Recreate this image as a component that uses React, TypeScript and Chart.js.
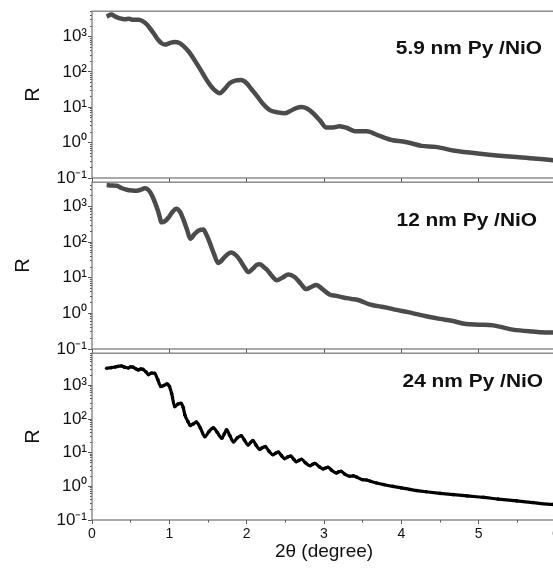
import React, { useEffect, useRef } from 'react';
import { Chart, registerables } from 'chart.js';

Chart.register(...registerables);
Chart.defaults.font.family = '"Liberation Sans", Arial, sans-serif';

// 5.9 nm Py / NiO
const theta59 = [0.19, 0.25, 0.30, 0.36, 0.42, 0.48, 0.53, 0.60, 0.66, 0.71, 0.77, 0.82, 0.86, 0.90, 0.94, 1.00, 1.07, 1.13, 1.18, 1.25, 1.31, 1.38, 1.44, 1.50, 1.55, 1.60, 1.65, 1.71, 1.78, 1.85, 1.93, 2.00, 2.06, 2.14, 2.21, 2.30, 2.40, 2.49, 2.57, 2.64, 2.71, 2.78, 2.86, 2.95, 3.03, 3.12, 3.20, 3.30, 3.40, 3.55, 3.72, 3.89, 4.02, 4.14, 4.26, 4.44, 4.69, 5.05, 5.49, 5.96, 6.0];
const r59 = [3700, 4200, 3700, 3300, 3100, 3200, 3000, 3000, 2700, 2200, 1500, 1050, 790, 650, 600, 650, 710, 660, 550, 380, 245, 140, 85, 52, 37, 29, 25, 32, 48, 57, 59, 48, 33, 20, 12.6, 8.3, 7.2, 6.8, 8.0, 9.5, 10.2, 9.2, 6.8, 4.2, 2.7, 2.7, 2.9, 2.6, 2.1, 2.1, 1.55, 1.17, 1.08, 0.95, 0.81, 0.76, 0.59, 0.48, 0.39, 0.32, 0.31];

// 12 nm Py / NiO
const theta12 = [0.19, 0.25, 0.32, 0.38, 0.45, 0.52, 0.58, 0.64, 0.68, 0.73, 0.77, 0.82, 0.86, 0.90, 0.94, 0.99, 1.04, 1.09, 1.14, 1.18, 1.23, 1.27, 1.33, 1.38, 1.44, 1.48, 1.52, 1.58, 1.63, 1.66, 1.70, 1.75, 1.80, 1.86, 1.91, 1.97, 2.02, 2.08, 2.13, 2.17, 2.22, 2.26, 2.33, 2.39, 2.46, 2.54, 2.62, 2.70, 2.77, 2.84, 2.90, 2.98, 3.07, 3.16, 3.25, 3.35, 3.46, 3.59, 3.70, 3.81, 3.94, 4.07, 4.20, 4.32, 4.50, 4.65, 4.84, 5.00, 5.19, 5.30, 5.44, 5.70, 5.96, 6.0];
const r12 = [4000, 3900, 3800, 3300, 2950, 2800, 2750, 3000, 3250, 2900, 2150, 1200, 680, 360, 380, 490, 700, 870, 700, 440, 220, 125, 172, 210, 225, 160, 100, 45, 26, 28, 35, 45, 51, 43, 32, 20, 14.5, 18, 23, 24, 20, 17, 11, 8.5, 10, 12.4, 10.5, 6.8, 4.8, 5.6, 6.3, 4.8, 3.4, 3.1, 2.8, 2.55, 2.3, 1.78, 1.6, 1.45, 1.25, 1.10, 0.95, 0.83, 0.70, 0.62, 0.50, 0.48, 0.46, 0.41, 0.35, 0.31, 0.29, 0.29];

// 24 nm Py / NiO
const theta24 = [0.19, 0.25, 0.30, 0.34, 0.38, 0.42, 0.47, 0.50, 0.53, 0.57, 0.60, 0.63, 0.66, 0.70, 0.73, 0.77, 0.81, 0.85, 0.89, 0.93, 0.97, 1.00, 1.03, 1.07, 1.11, 1.15, 1.18, 1.20, 1.24, 1.27, 1.31, 1.35, 1.40, 1.46, 1.51, 1.57, 1.62, 1.68, 1.71, 1.74, 1.78, 1.83, 1.88, 1.93, 1.97, 2.02, 2.05, 2.08, 2.12, 2.17, 2.20, 2.24, 2.29, 2.34, 2.38, 2.41, 2.45, 2.49, 2.53, 2.57, 2.61, 2.64, 2.68, 2.71, 2.76, 2.82, 2.85, 2.88, 2.94, 2.99, 3.02, 3.05, 3.10, 3.16, 3.19, 3.22, 3.27, 3.33, 3.38, 3.42, 3.50, 3.55, 3.60, 3.68, 3.78, 3.89, 4.00, 4.11, 4.20, 4.32, 4.50, 4.67, 4.85, 5.06, 5.25, 5.49, 5.70, 5.96, 6.0];
const r24 = [3250, 3400, 3550, 3700, 3800, 3500, 3300, 3600, 3500, 3100, 2900, 3100, 3000, 2500, 2100, 2350, 2300, 1500, 930, 1000, 1110, 950, 575, 235, 280, 295, 220, 135, 85, 65, 72, 81, 55, 30, 42, 55, 40, 27, 36, 48, 33, 21, 28, 32, 24, 17, 20, 23, 17, 12.6, 14, 15.2, 11, 8.7, 9.8, 10.5, 8.2, 6.7, 7.5, 8.0, 6.3, 5.4, 6.0, 6.4, 5.0, 4.1, 4.5, 4.8, 3.8, 3.3, 3.5, 3.7, 3.0, 2.5, 2.7, 2.8, 2.3, 2.0, 2.05, 1.9, 1.58, 1.55, 1.42, 1.26, 1.12, 1.0, 0.9, 0.81, 0.75, 0.69, 0.62, 0.57, 0.52, 0.47, 0.42, 0.37, 0.33, 0.29, 0.29];

const panelLabels = ['5.9 nm Py /NiO', '12 nm Py /NiO', '24 nm Py /NiO'];
const panelMax = [5250, 4800, 9100];
const yMajorTicks = [0.1, 1, 10, 100, 1000];
const xMajorTicks = [0, 1, 2, 3, 4, 5, 6];
const xMinorTicks = [0.5, 1.5, 2.5, 3.5, 4.5, 5.5];
const xTitle = '2θ (degree)';
const yTitle = 'R';

const seriesTheta = [theta59, theta12, theta24];
const seriesR = [r59, r12, r24];

const SUP: Record<string, string> = { '-': '⁻', '0': '⁰', '1': '¹', '2': '²', '3': '³', '4': '⁴' };
function fmtPow(v: number): string {
  const e = Math.round(Math.log10(v));
  return '10' + String(e).split('').map((c) => SUP[c] || c).join('');
}

function minorTicks(max: number): number[] {
  const out: number[] = [];
  for (const d of yMajorTicks) {
    for (let k = 2; k <= 9; k++) {
      const v = d * k;
      if (v <= max) out.push(v);
    }
  }
  return out;
}

const framePlugin = {
  id: 'frame',
  afterDraw(chart: any) {
    const { ctx, chartArea: a } = chart;
    ctx.save();
    ctx.strokeStyle = '#7c7c7c';
    ctx.lineWidth = 1.3;
    ctx.strokeRect(a.left, a.top, a.right - a.left, a.bottom - a.top);
    ctx.restore();
  },
};

const labelPlugin = {
  id: 'panelLabel',
  afterDatasetsDraw(chart: any, _args: any, opts: any) {
    const { ctx, chartArea: a } = chart;
    ctx.save();
    ctx.font = 'bold 18px "Liberation Sans", Arial, sans-serif';
    ctx.fillStyle = '#111';
    ctx.textAlign = 'right';
    ctx.textBaseline = 'middle';
    ctx.translate(a.right - opts.inset, a.top + opts.dy);
    ctx.scale(opts.sx, 1);
    ctx.fillText(opts.text, 0, 0);
    ctx.restore();
  },
};

const PANEL = [
  { top: 0, height: 190, xH: 12, rPad: 21, inset: 14, dy: 38, color: '#4b4b4b', width: 4.5, pr: 0 },
  { top: 171, height: 190, xH: 12, rPad: 11, inset: 19, dy: 39, color: '#4b4b4b', width: 4.5, pr: 0 },
  { top: 342, height: 233, xH: 55, rPad: 21, inset: 13, dy: 29, color: '#000000', width: 3.2, pr: 1.8 },
];

function makeConfig(idx: number): any {
  const p = PANEL[idx];
  const isBottom = idx === 2;
  const max = panelMax[idx];
  const pts = seriesTheta[idx].map((x, i) => ({ x, y: seriesR[idx][i] }));
  const tickGrid = (len: number) => ({
    drawOnChartArea: false,
    drawTicks: true,
    tickLength: len,
    tickColor: '#555',
    tickWidth: 1,
  });
  const scales: any = {
    x: {
      type: 'linear',
      position: 'bottom',
      weight: 1,
      min: 0,
      max: 6,
      afterBuildTicks: (s: any) => {
        s.ticks = xMajorTicks.map((v) => ({ value: v }));
      },
      ticks: { display: isBottom, autoSkip: false, padding: 2, color: '#111', font: { size: 14 } },
      grid: tickGrid(4),
      border: { display: false },
      title: { display: isBottom, text: xTitle, color: '#111', font: { size: 19 }, padding: { top: 0, bottom: 12 } },
      afterFit: (s: any) => {
        s.height = p.xH;
      },
    },
    y: {
      type: 'logarithmic',
      position: 'left',
      weight: 1,
      min: 0.1,
      max,
      afterBuildTicks: (s: any) => {
        s.ticks = yMajorTicks.map((v) => ({ value: v }));
      },
      ticks: { autoSkip: false, padding: 1, color: '#111', font: { size: 17 }, callback: (v: any) => fmtPow(Number(v)) },
      grid: tickGrid(4),
      border: { display: false },
      title: { display: true, text: yTitle, color: '#111', font: { size: 20 }, padding: { top: p.rPad, bottom: 0 } },
      afterFit: (s: any) => {
        s.width = 92;
      },
    },
    ym: {
      type: 'logarithmic',
      position: 'left',
      weight: 0,
      min: 0.1,
      max,
      afterBuildTicks: (s: any) => {
        s.ticks = minorTicks(max).map((v) => ({ value: v }));
      },
      ticks: { display: false, autoSkip: false },
      grid: tickGrid(2),
      border: { display: false },
      afterFit: (s: any) => {
        s.width = 0;
      },
    },
  };
  if (isBottom) {
    scales.xm = {
      type: 'linear',
      position: 'bottom',
      weight: 0,
      min: 0,
      max: 6,
      afterBuildTicks: (s: any) => {
        s.ticks = xMinorTicks.map((v) => ({ value: v }));
      },
      ticks: { display: false, autoSkip: false },
      grid: tickGrid(2.5),
      border: { display: false },
      afterFit: (s: any) => {
        s.height = 0;
      },
    };
  }
  return {
    type: 'line',
    data: {
      datasets: [
        {
          label: panelLabels[idx],
          data: pts,
          xAxisID: 'x',
          yAxisID: 'y',
          borderColor: p.color,
          backgroundColor: p.color,
          borderWidth: p.width,
          pointRadius: p.pr,
          pointBorderWidth: 0,
          pointBackgroundColor: p.color,
          tension: 0.4,
          cubicInterpolationMode: 'monotone',
          fill: false,
        },
      ],
    },
    options: {
      responsive: false,
      animation: false,
      devicePixelRatio: 1,
      layout: { padding: { top: 7, left: 0, right: 14, bottom: 0 }, autoPadding: false },
      plugins: {
        legend: { display: false },
        tooltip: { enabled: false },
        panelLabel: { text: panelLabels[idx], inset: p.inset, dy: p.dy, sx: 1.16 },
      },
      scales,
    },
    plugins: [framePlugin, labelPlugin],
  };
}

export default function App() {
  const r0 = useRef<HTMLCanvasElement>(null);
  const r1 = useRef<HTMLCanvasElement>(null);
  const r2 = useRef<HTMLCanvasElement>(null);

  useEffect(() => {
    const refs = [r0, r1, r2];
    const charts = refs.map((r, i) => new Chart(r.current as HTMLCanvasElement, makeConfig(i)));
    return () => charts.forEach((c) => c.destroy());
  }, []);

  const refs = [r0, r1, r2];
  return (
    <div style={{ position: 'absolute', left: 0, top: 0, width: 553, height: 575, overflow: 'hidden', background: '#fff' }}>
      {PANEL.map((p, i) => (
        <canvas
          key={i}
          ref={refs[i]}
          width={570}
          height={p.height}
          style={{ position: 'absolute', left: 0, top: p.top, width: 570, height: p.height }}
        />
      ))}
    </div>
  );
}
